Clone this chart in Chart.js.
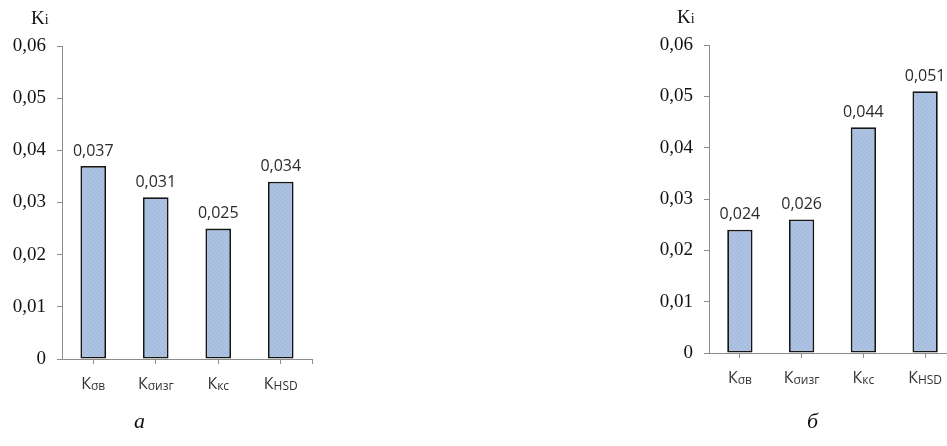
<!DOCTYPE html>
<html>
<head>
<meta charset="utf-8">
<script src="https://cdn.jsdelivr.net/npm/chart.js@4/dist/chart.umd.min.js"></script>
<style>
  html, body { margin:0; padding:0; background:#fff; width:947px; height:446px; overflow:hidden; position:relative; }
  canvas { position:absolute; top:0; }
  .ki { position:absolute; font-family:"Liberation Serif", serif; color:#111; font-size:19px; line-height:1; }
  .ki small { font-size:14px; }
  .cap { position:absolute; font-family:"Liberation Serif", serif; font-style:italic; font-size:22px; color:#111; line-height:1; }
</style>
</head>
<body>
<canvas id="c1" width="330" height="446" style="left:0px;width:330px;height:446px"></canvas>
<canvas id="c2" width="330" height="446" style="left:647px;width:330px;height:446px"></canvas>
<div class="ki" style="left:31px;top:8px">K<small>i</small></div>
<div class="ki" style="left:677px;top:7px">K<small>i</small></div>
<div class="cap" style="left:134px;top:410px">а</div>
<div class="cap" style="left:807px;top:410px">б</div>
<script>
// ---- data ----
const categoryMain = ['К', 'К', 'К', 'К'];
const categorySub = ['σв', 'σизг', 'кс', 'HSD'];
const valuesA = [0.037, 0.031, 0.025, 0.034];
const valuesB = [0.024, 0.026, 0.044, 0.051];
const yTickLabels = ['0', '0,01', '0,02', '0,03', '0,04', '0,05', '0,06'];
const valueLabelsA = ['0,037', '0,031', '0,025', '0,034'];
const valueLabelsB = ['0,024', '0,026', '0,044', '0,051'];

function makePattern() {
  const p = document.createElement('canvas');
  p.width = 4; p.height = 4;
  const g = p.getContext('2d');
  g.fillStyle = '#a9c0e1';
  g.fillRect(0, 0, 4, 4);
  g.fillStyle = '#9db4d8';
  g.fillRect(0, 0, 1, 1); g.fillRect(2, 2, 1, 1);
  g.fillStyle = '#b6cbe8';
  g.fillRect(2, 0, 1, 1); g.fillRect(0, 2, 1, 1);
  return document.getElementById('c1').getContext('2d').createPattern(p, 'repeat');
}

const labelPlugin = {
  id: 'labelPlugin',
  afterDraw(chart) {
    const ctx = chart.ctx;
    const xs = chart.scales.x;
    const ca = chart.chartArea;
    const meta = chart.getDatasetMeta(0);
    const vlabels = chart.options.plugins.labelPlugin.valueLabels;
    ctx.save();
    // value labels
    ctx.fillStyle = '#2b2b2b';
    ctx.font = '16px "Open Sans"';
    ctx.textAlign = 'center';
    ctx.textBaseline = 'middle';
    meta.data.forEach((bar, i) => {
      ctx.fillText(vlabels[i], bar.x, bar.y - 15);
    });
    // category labels with subscripts
    ctx.fillStyle = '#333333';
    ctx.textAlign = 'left';
    ctx.textBaseline = 'alphabetic';
    categoryMain.forEach((m, i) => {
      const x = xs.getPixelForValue(i);
      ctx.font = '16px "Open Sans"';
      const w1 = ctx.measureText(m).width;
      ctx.font = '12px "Open Sans"';
      const w2 = ctx.measureText(categorySub[i]).width;
      const x0 = x - (w1 + w2) / 2;
      const yb = ca.bottom + 30;
      ctx.font = '16px "Open Sans"';
      ctx.fillText(m, x0, yb);
      ctx.font = '12px "Open Sans"';
      ctx.fillText(categorySub[i], x0 + w1, yb + 1);
    });
    // end tick
    ctx.strokeStyle = '#8c8c8c';
    ctx.lineWidth = 1;
    ctx.beginPath();
    ctx.moveTo(Math.round(ca.right) + 0.5, ca.bottom);
    ctx.lineTo(Math.round(ca.right) + 0.5, ca.bottom + 5);
    ctx.stroke();
    ctx.restore();
  }
};

function makeChart(id, values, vlabels, topPad, bottomAxisH, rightPad) {
  const pattern = makePattern();
  return new Chart(document.getElementById(id), {
    type: 'bar',
    data: {
      labels: categorySub,
      datasets: [{
        data: values,
        backgroundColor: pattern,
        borderColor: '#151515',
        borderWidth: 1.8,
        borderSkipped: false,
        barPercentage: 1,
        categoryPercentage: 0.41
      }]
    },
    options: {
      responsive: false,
      animation: false,
      layout: { padding: { top: topPad, right: rightPad, bottom: 0, left: 0 } },
      plugins: {
        legend: { display: false },
        tooltip: { enabled: false },
        labelPlugin: { valueLabels: vlabels }
      },
      scales: {
        x: {
          offset: true,
          grid: { offset: false, drawOnChartArea: false, drawTicks: true, tickLength: 5, color: '#8c8c8c' },
          border: { color: '#8c8c8c', width: 1 },
          ticks: { display: false },
          afterFit(s) { s.height = bottomAxisH; }
        },
        y: {
          min: 0, max: 0.06,
          ticks: {
            stepSize: 0.01,
            padding: 11,
            color: '#111',
            font: { family: '"Liberation Serif"', size: 19 },
            callback: (v, i) => yTickLabels[i]
          },
          grid: { drawOnChartArea: false, drawTicks: true, tickLength: 5, color: '#8c8c8c' },
          border: { color: '#8c8c8c', width: 1 },
          afterFit(s) { s.width = 62; }
        }
      }
    },
    plugins: [labelPlugin]
  });
}

makeChart('c1', valuesA, valueLabelsA, 46, 446 - 359, 18);
makeChart('c2', valuesB, valueLabelsB, 45, 446 - 353, 21);
</script>
</body>
</html>
